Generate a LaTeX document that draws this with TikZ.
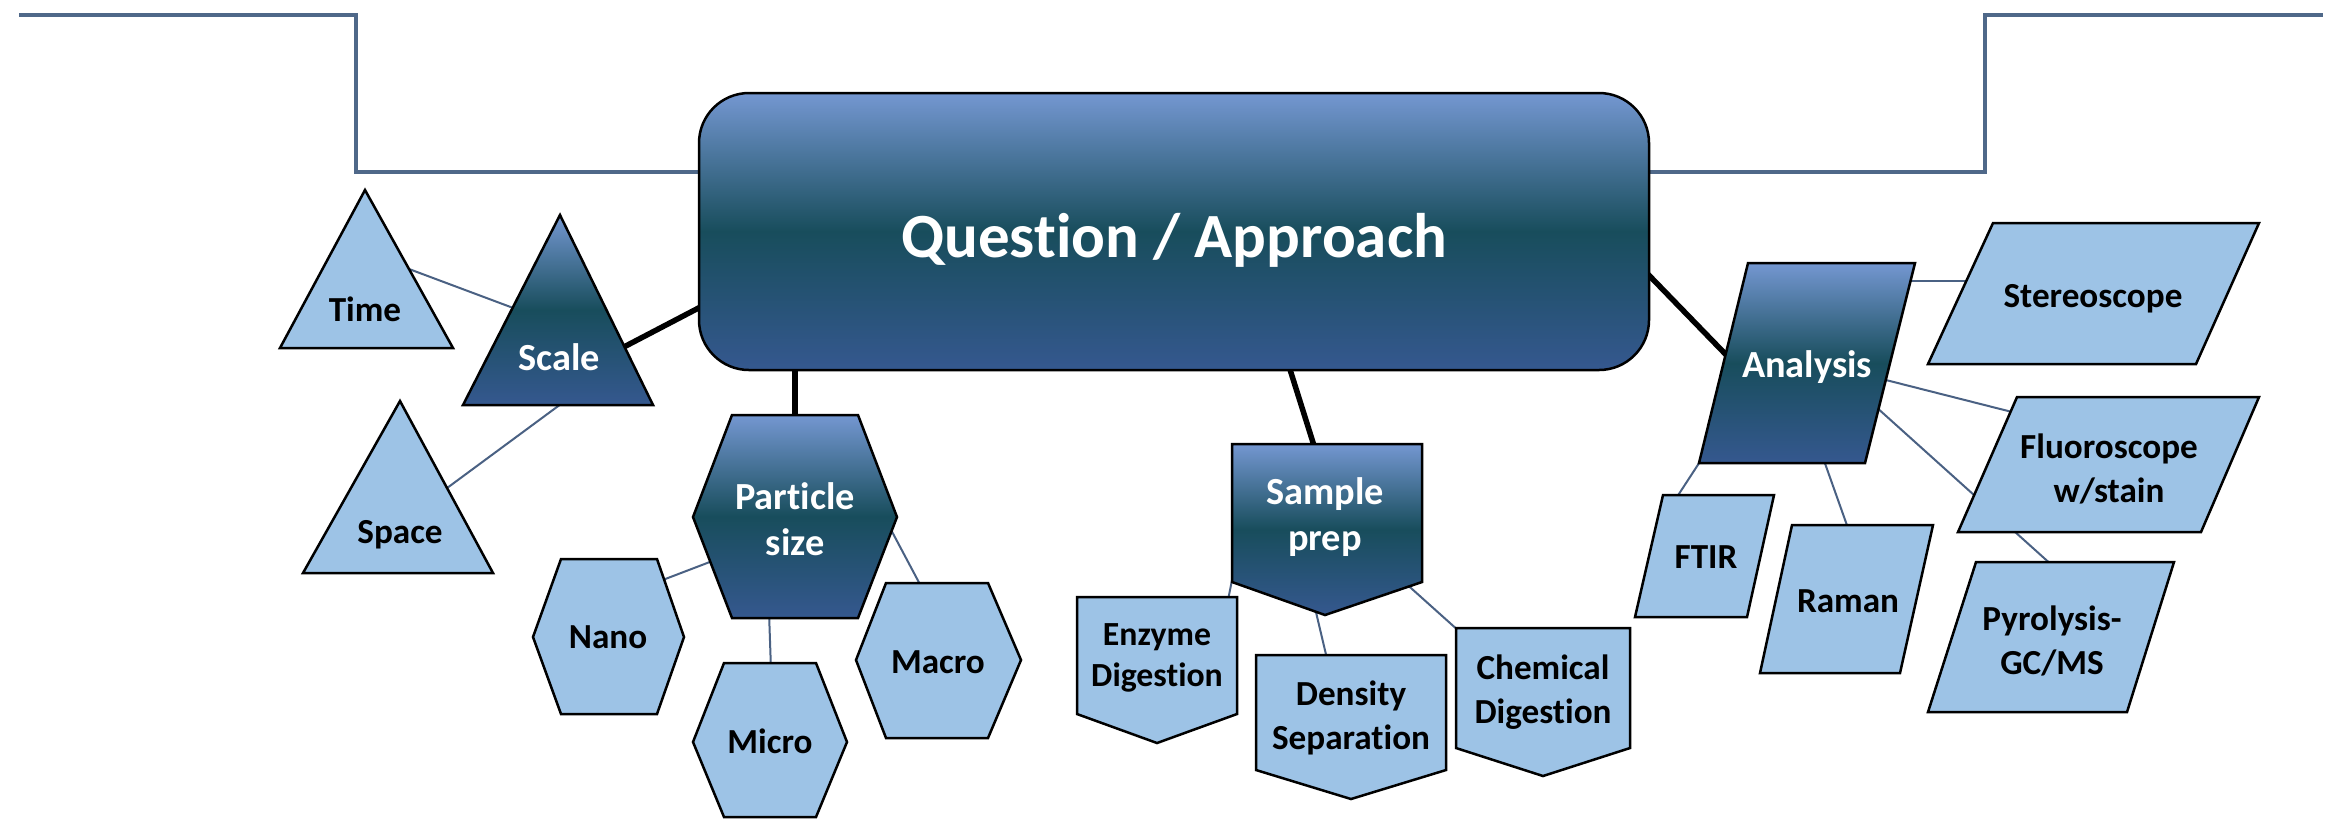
\documentclass[tikz,border=0pt]{standalone}
\usepackage{fontspec}
\setmainfont{Carlito}[Ligatures=NoCommon]
\definecolor{lightfill}{HTML}{9DC3E6}
\definecolor{dtop}{HTML}{7497D1}
\definecolor{dmid}{HTML}{184D5C}
\definecolor{dbot}{HTML}{35588F}
\definecolor{slate}{HTML}{4F6889}
\definecolor{thinln}{HTML}{4A6183}
\tikzset{
  frameline/.style={draw=slate, line width=0.045cm, line join=miter},
  mainlink/.style={draw=black, line width=0.055cm},
  sublink/.style={draw=thinln, line width=0.02cm},
  darkshape/.style={draw=black, line width=0.025cm, top color=dtop, bottom color=dbot, middle color=dmid},
  lightshape/.style={draw=black, line width=0.025cm, fill=lightfill},
  lighttext/.style={font=\fontsize{10pt}{12.5pt}\selectfont\bfseries, text=black, inner sep=0pt, align=center},
  smalltext/.style={font=\fontsize{9.6pt}{11.6pt}\selectfont\bfseries, text=black, inner sep=0pt, align=center},
  darktext/.style={font=\fontsize{10.9pt}{13.1pt}\selectfont\bfseries, text=white, inner sep=0pt, align=center},
  maintext/.style={font=\fontsize{17.9pt}{20pt}\selectfont\bfseries, text=white, inner sep=0pt},
}
\begin{document}
\begin{tikzpicture}[x=0.01cm,y=-0.01cm]
\useasboundingbox[fill=white] (0,0) rectangle (2343,820);

% ---------- frame lines ----------
\coordinate (fl0) at (19,15);
\coordinate (fl1) at (705,172);
\coordinate (fr0) at (1640,172);
\coordinate (fr1) at (2323,15);
\draw[frameline] (fl0) -- (356,15) -- (356,172) -- (fl1);
\draw[frameline] (fr0) -- (1985,172) -- (1985,15) -- (fr1);

% ---------- connector end points ----------
\coordinate (mainS) at (620,349);   \coordinate (scaleM) at (710,302);
\coordinate (mainP1) at (795,360);  \coordinate (partM) at (795,425);
\coordinate (mainSP) at (1287,360); \coordinate (sampM) at (1316,452);
\coordinate (mainA) at (1640,266);  \coordinate (anaM) at (1735,364);
\coordinate (timeS) at (401,266);   \coordinate (scaleT) at (524,312);
\coordinate (spaceS) at (443,491);  \coordinate (scaleSp) at (565,401);
\coordinate (nanoP) at (660,581);   \coordinate (partN) at (715,560);
\coordinate (microP) at (771,670);  \coordinate (partMi) at (769,612);
\coordinate (macroP) at (923,590);  \coordinate (partMa) at (889,526);
\coordinate (enzS) at (1227,605);   \coordinate (sampE) at (1233,575);
\coordinate (denS) at (1328,663);   \coordinate (sampD) at (1315,608);
\coordinate (chemS) at (1460,632);  \coordinate (sampC) at (1402,580);
\coordinate (stereoA) at (1975,281);\coordinate (anaSt) at (1905,281);
\coordinate (fluoA) at (2020,414);  \coordinate (anaF) at (1878,378);
\coordinate (pyroA) at (2054,567);  \coordinate (anaP) at (1855,388);
\coordinate (ftirA) at (1673,503);  \coordinate (anaFT) at (1703,457);
\coordinate (ramanA) at (1849,531); \coordinate (anaR) at (1822,455);

% ---------- connectors (drawn under the shapes) ----------
\draw[mainlink] (mainS) -- (scaleM);
\draw[mainlink] (mainP1) -- (partM);
\draw[mainlink] (mainSP) -- (sampM);
\draw[mainlink] (mainA) -- (anaM);
\draw[sublink] (timeS) -- (scaleT);
\draw[sublink] (spaceS) -- (scaleSp);
\draw[sublink] (nanoP) -- (partN);
\draw[sublink] (microP) -- (partMi);
\draw[sublink] (macroP) -- (partMa);
\draw[sublink] (enzS) -- (sampE);
\draw[sublink] (denS) -- (sampD);
\draw[sublink] (chemS) -- (sampC);
\draw[sublink] (stereoA) -- (anaSt);
\draw[sublink] (fluoA) -- (anaF);
\draw[sublink] (pyroA) -- (anaP);
\draw[sublink] (ftirA) -- (anaFT);
\draw[sublink] (ramanA) -- (anaR);

% ---------- shapes ----------
\path[darkshape, rounded corners=0.5cm] (699,93) rectangle (1649,370);
% scale group
\path[lightshape] (365,190) -- (453,348) -- (280,348) -- cycle;
\path[darkshape] (560,215) -- (653,405) -- (463,405) -- cycle;
\path[lightshape] (400,401) -- (493,573) -- (303,573) -- cycle;
% particle size group
\path[darkshape] (732,415) -- (858,415) -- (897,517) -- (858,618) -- (732,618) -- (693,517) -- cycle;
\path[lightshape] (561,559) -- (657,559) -- (684,637) -- (657,714) -- (561,714) -- (533,637) -- cycle;
\path[lightshape] (724,663) -- (816,663) -- (847,742) -- (816,817) -- (724,817) -- (693,742) -- cycle;
\path[lightshape] (886,583) -- (988,583) -- (1021,660) -- (988,738) -- (886,738) -- (856,660) -- cycle;
% sample prep group
\path[darkshape] (1232,444) -- (1422,444) -- (1422,582) -- (1325,615) -- (1232,582) -- cycle;
\path[lightshape] (1077,597) -- (1237,597) -- (1237,714) -- (1157,743) -- (1077,714) -- cycle;
\path[lightshape] (1256,655) -- (1446,655) -- (1446,770) -- (1351,799) -- (1256,770) -- cycle;
\path[lightshape] (1456,628) -- (1630,628) -- (1630,748) -- (1543,776) -- (1456,748) -- cycle;
% analysis group
\path[darkshape] (1748,263) -- (1915,263) -- (1865,463) -- (1699,463) -- cycle;
\path[lightshape] (1993,223) -- (2259,223) -- (2196,364) -- (1928,364) -- cycle;
\path[lightshape] (2017,397) -- (2259,397) -- (2201,532) -- (1958,532) -- cycle;
\path[lightshape] (1976,562) -- (2174,562) -- (2127,712) -- (1928,712) -- cycle;
\path[lightshape] (1663,495) -- (1774,495) -- (1747,617) -- (1635,617) -- cycle;
\path[lightshape] (1792,525) -- (1933,525) -- (1900,673) -- (1760,673) -- cycle;

% ---------- labels ----------
\node[maintext, anchor=base] (main) at (1174,257) {Question / Approach};
\node[lighttext, anchor=base] (time) at (365,321) {Time};
\node[darktext, anchor=base] (scale) at (559,370) {Scale};
\node[lighttext, anchor=base] (space) at (400,543) {Space};
\node[darktext] (particle) at (795,519) {Particle\\size};
\node[lighttext, anchor=base] (nano) at (608,648) {Nano};
\node[lighttext, anchor=base] (micro) at (770,753) {Micro};
\node[lighttext, anchor=base] (macro) at (938,673) {Macro};
\node[darktext] (sample) at (1325,517) {Sample\\prep};
\node[smalltext] (enzyme) at (1157,658) {Enzyme\\Digestion};
\node[lighttext] (density) at (1351,718) {Density\\Separation};
\node[lighttext] (chemical) at (1543,692) {Chemical\\Digestion};
\node[darktext, anchor=base] (analysis) at (1807,377) {Analysis};
\node[lighttext, anchor=base] (stereo) at (2093,307) {Stereoscope};
\node[lighttext] (fluoro) at (2109,469) {Fluoroscope\\w/stain};
\node[lighttext] (pyro) at (2052,641) {Pyrolysis-\\GC/MS};
\node[lighttext, anchor=base] (ftir) at (1706,568) {FTIR};
\node[lighttext, anchor=base] (raman) at (1848,612) {Raman};
\end{tikzpicture}
\end{document}
